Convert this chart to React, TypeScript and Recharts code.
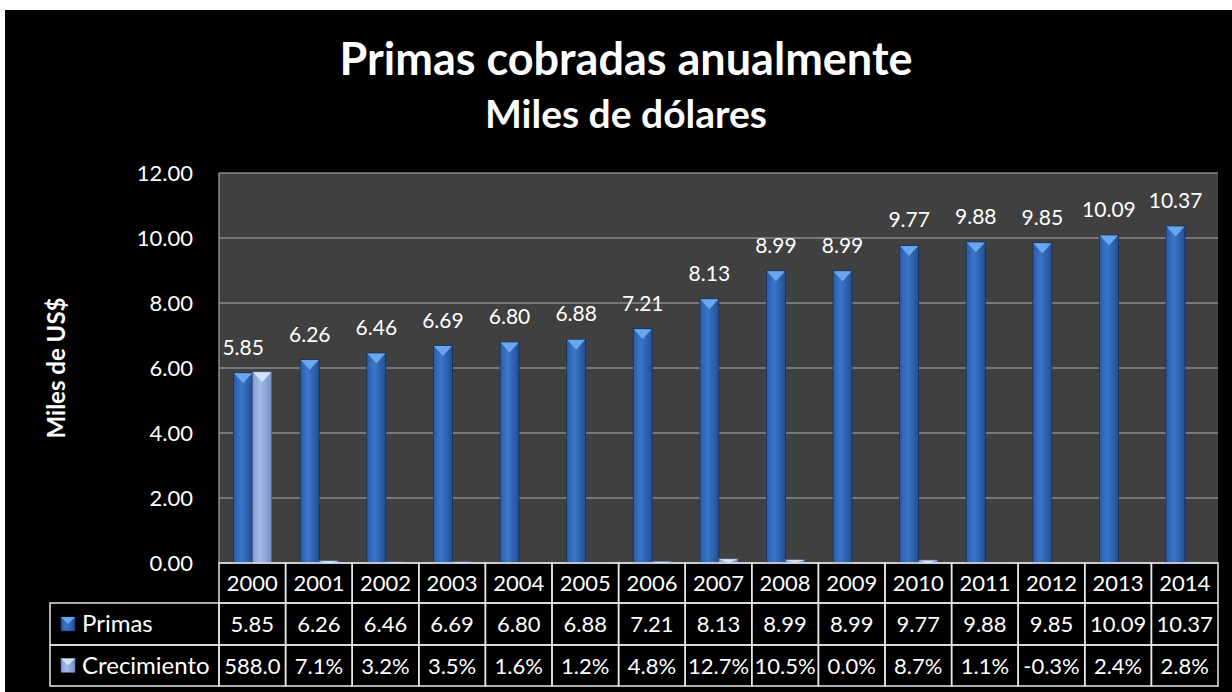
import React from "react";
import { Bar, BarChart, CartesianGrid, LabelList, XAxis, YAxis } from "recharts";

const years = ["2000", "2001", "2002", "2003", "2004", "2005", "2006", "2007", "2008", "2009", "2010", "2011", "2012", "2013", "2014"];
const primas = [5.85, 6.26, 6.46, 6.69, 6.8, 6.88, 7.21, 8.13, 8.99, 8.99, 9.77, 9.88, 9.85, 10.09, 10.37];
const crecimiento = [5.88, 0.071, 0.032, 0.035, 0.016, 0.012, 0.048, 0.127, 0.105, 0.0, 0.087, 0.011, -0.003, 0.024, 0.028];
const crecimientoLabels = ["588.0", "7.1%", "3.2%", "3.5%", "1.6%", "1.2%", "4.8%", "12.7%", "10.5%", "0.0%", "8.7%", "1.1%", "-0.3%", "2.4%", "2.8%"];
const yTicks = [0, 2, 4, 6, 8, 10, 12];

const data = years.map((year, i) => ({ year, primas: primas[i], crecimiento: crecimiento[i] }));

const FONT = "Lato, 'Open Sans', sans-serif";
const W = 1227;
const H = 682;
const M = { top: 163, right: 14, left: 0, bottom: 6 };
const Y_W = 214;
const X_H = 123;
const PLOT_W = W - M.left - M.right - Y_W;
const BAND = PLOT_W / years.length;
const ROWS = [40, 42, 41];
const LEGEND_X = 45;
const LINE = "#e8e8e8";

const series = {
  primas: { grad: "gPrimas", cap: "#6aa6ee", edge: "#13305c" },
  crec: { grad: "gCrec", cap: "#d2e2f8", edge: "#4b5f8a" },
};

function make3D(kind: keyof typeof series) {
  const s = series[kind];
  return (p: any) => {
    const { x, y, width: w, height: h } = p;
    const top = Math.min(y, y + h);
    const hh = Math.abs(h);
    if (!w || hh < 0.3) return <g />;
    const cap = Math.min(w * 0.55, hh);
    return (
      <g>
        <rect x={x} y={top} width={w} height={hh} fill={`url(#${s.grad})`} stroke={s.edge} strokeWidth={0.8} />
        <polygon points={`${x + 0.5},${top + 0.5} ${x + w - 0.5},${top + 0.5} ${x + w / 2},${top + cap}`} fill={s.cap} />
      </g>
    );
  };
}

function LegendIcon({ x, y, kind }: { x: number; y: number; kind: keyof typeof series }) {
  const s = series[kind];
  return (
    <g>
      <rect x={x} y={y} width={14} height={14} fill={`url(#${s.grad})`} stroke={s.edge} strokeWidth={0.6} />
      <polygon points={`${x},${y} ${x + 14},${y} ${x + 7},${y + 7}`} fill={s.cap} />
    </g>
  );
}

const cellText = { fill: "#fff", fontSize: 22, fontFamily: FONT, textAnchor: "middle" as const };

function TableTick(props: any) {
  const { x, y, payload } = props;
  const i = years.indexOf(String(payload.value));
  const left = x - BAND / 2;
  const r1 = y + ROWS[0];
  const r2 = r1 + ROWS[1];
  const texts = [years[i], primas[i].toFixed(2), crecimientoLabels[i]];
  const tops = [y, r1, r2];
  return (
    <g>
      {tops.map((t, k) => (
        <g key={k}>
          <rect x={left} y={t} width={BAND} height={ROWS[k]} fill="none" stroke={LINE} strokeWidth={1.5} />
          <text {...cellText} x={x} y={t + ROWS[k] / 2 + 8}>
            {texts[k]}
          </text>
        </g>
      ))}
      {i === 0 && (
        <g>
          <rect x={LEGEND_X} y={r1} width={left - LEGEND_X} height={ROWS[1]} fill="none" stroke={LINE} strokeWidth={1.5} />
          <rect x={LEGEND_X} y={r2} width={left - LEGEND_X} height={ROWS[2]} fill="none" stroke={LINE} strokeWidth={1.5} />
          <LegendIcon x={LEGEND_X + 11} y={r1 + ROWS[1] / 2 - 7} kind="primas" />
          <LegendIcon x={LEGEND_X + 11} y={r2 + ROWS[2] / 2 - 7} kind="crec" />
          <text fill="#fff" fontSize={24} fontFamily={FONT} x={LEGEND_X + 32} y={r1 + ROWS[1] / 2 + 8}>
            Primas
          </text>
          <text fill="#fff" fontSize={24} fontFamily={FONT} x={LEGEND_X + 32} y={r2 + ROWS[2] / 2 + 8}>
            Crecimiento
          </text>
        </g>
      )}
    </g>
  );
}

const TopLabel = (p: any) => (
  <text x={p.x + p.width / 2} y={p.y - 18} fill="#fff" fontSize={21} fontFamily={FONT} textAnchor="middle">
    {Number(p.value).toFixed(2)}
  </text>
);

export default function App() {
  return (
    <div style={{ position: "relative", width: 1232, height: 692, background: "#fff", overflow: "hidden" }}>
      <style>{"body{margin:0}"}</style>
      <svg width={0} height={0} style={{ position: "absolute" }}>
        <defs>
          <linearGradient id="gPrimas" x1="0" y1="0" x2="1" y2="0">
            <stop offset="0%" stopColor="#2a5ca8" />
            <stop offset="40%" stopColor="#3b76cb" />
            <stop offset="100%" stopColor="#234e91" />
          </linearGradient>
          <linearGradient id="gCrec" x1="0" y1="0" x2="1" y2="0">
            <stop offset="0%" stopColor="#86a0d4" />
            <stop offset="40%" stopColor="#a2bbe8" />
            <stop offset="100%" stopColor="#7891c6" />
          </linearGradient>
        </defs>
      </svg>
      <div style={{ position: "absolute", left: 5, top: 10, width: W, height: H, background: "#000" }}>
        <BarChart width={W} height={H} data={data} margin={M} barCategoryGap="22%" barGap={0}>
          <CartesianGrid vertical={false} stroke="#8a8a8a" strokeWidth={1.5} fill="#404040" />
          <XAxis
            dataKey="year"
            height={X_H}
            axisLine={false}
            tickLine={false}
            tickSize={0}
            tickMargin={0}
            interval={0}
            tick={<TableTick />}
          />
          <YAxis
            width={Y_W}
            domain={[0, 12]}
            ticks={yTicks}
            interval={0}
            axisLine={{ stroke: "#8a8a8a", strokeWidth: 1.5 }}
            tickLine={false}
            tickSize={0}
            tickMargin={26}
            tick={{ fill: "#fff", fontSize: 22, fontFamily: FONT }}
            tickFormatter={(v: number) => v.toFixed(2)}
            label={{
              content: (lp: any) => {
                const vb = lp.viewBox;
                const cy = vb.y + vb.height / 2;
                return (
                  <text
                    transform={`translate(60 ${cy}) rotate(-90)`}
                    fill="#fff"
                    fontSize={24}
                    fontWeight={700}
                    fontFamily={FONT}
                    textAnchor="middle"
                  >
                    Miles de US$
                  </text>
                );
              },
            }}
          />
          <Bar dataKey="primas" name="Primas" isAnimationActive={false} shape={make3D("primas")}>
            <LabelList dataKey="primas" content={TopLabel} />
          </Bar>
          <Bar dataKey="crecimiento" name="Crecimiento" isAnimationActive={false} shape={make3D("crec")} />
        </BarChart>
        <svg width={W} height={150} style={{ position: "absolute", left: 0, top: 0 }}>
          <text x={621} y={65} fill="#fff" fontSize={45} fontWeight={700} fontFamily={FONT} textAnchor="middle">
            Primas cobradas anualmente
          </text>
          <text x={621} y={118} fill="#fff" fontSize={39} fontWeight={700} fontFamily={FONT} textAnchor="middle">
            Miles de dólares
          </text>
        </svg>
      </div>
    </div>
  );
}
